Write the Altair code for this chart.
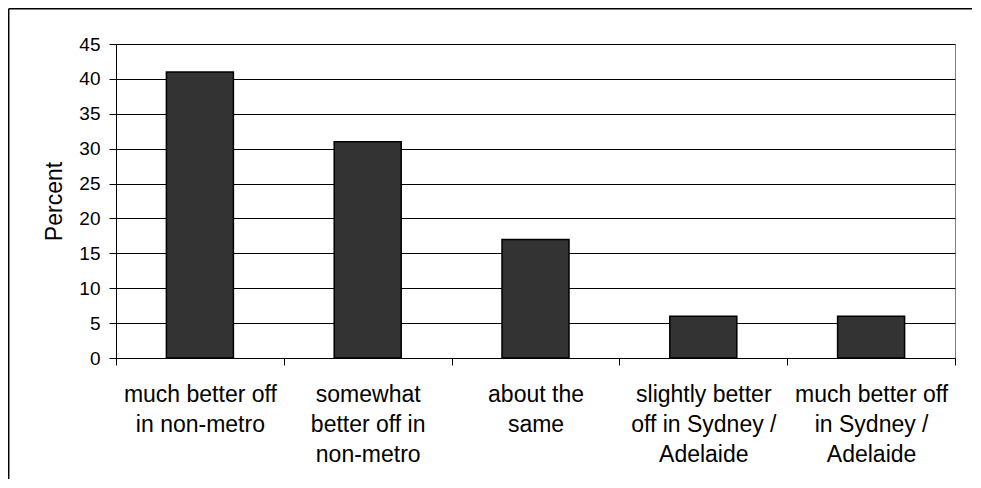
import json
import altair as alt
import pandas as pd

categories = [
    "much better off in non-metro",
    "somewhat better off in non-metro",
    "about the same",
    "slightly better off in Sydney / Adelaide",
    "much better off in Sydney / Adelaide",
]
percent = [41, 31, 17, 6, 6]
label_lines = [
    ["much better off", "in non-metro"],
    ["somewhat", "better off in", "non-metro"],
    ["about the", "same"],
    ["slightly better", "off in Sydney /", "Adelaide"],
    ["much better off", "in Sydney /", "Adelaide"],
]
y_ticks = [0, 5, 10, 15, 20, 25, 30, 35, 40, 45]

df = pd.DataFrame({"category": categories, "percent": percent})

# build a label expression that wraps each category into its lines
expr = "datum.label"
for cat, lines in reversed(list(zip(categories, label_lines))):
    expr = f"datum.label == {json.dumps(cat)} ? {json.dumps(lines)} : ({expr})"

FONT = "Liberation Sans"

bars = alt.Chart(df).mark_bar(
    size=67, fill="#333333", stroke="black", strokeWidth=1.5
).encode(
    x=alt.X(
        "category:N",
        sort=categories,
        scale=alt.Scale(paddingInner=0, paddingOuter=0),
        axis=alt.Axis(
            title=None,
            tickBand="extent",
            tickSize=7,
            tickColor="black",
            domainColor="black",
            labelAngle=0,
            labelLimit=0,
            labelPadding=18,
            labelFontSize=23,
            labelLineHeight=30,
            labelBaseline="top",
            labelExpr=expr,
            grid=False,
        ),
    ),
    y=alt.Y(
        "percent:Q",
        scale=alt.Scale(domain=[0, 45], nice=False),
        axis=alt.Axis(
            values=y_ticks,
            title="Percent",
            titleFontSize=23,
            titleFontWeight="normal",
            titleX=-55,
            titleY=157,
            titleAlign="center",
            titleBaseline="alphabetic",
            tickSize=7,
            tickColor="black",
            domainColor="black",
            labelFontSize=19,
            labelPadding=9,
            grid=True,
            gridColor="black",
            gridWidth=1,
        ),
    ),
)

border_df = pd.DataFrame({"k": [0]})
top_border = alt.Chart(border_df).mark_rule(color="black", strokeWidth=1.5).encode(
    x=alt.value(-107.3), x2=alt.value(1000), y=alt.value(-35.3)
)
left_border = alt.Chart(border_df).mark_rule(color="black", strokeWidth=1.5).encode(
    x=alt.value(-107.3), y=alt.value(-35.3), y2=alt.value(600)
)

chart = alt.layer(bars, top_border, left_border).properties(
    width=839,
    height=314,
    autosize=alt.AutoSizeParams(type="none"),
    padding={"left": 108, "top": 36, "right": 17, "bottom": 121},
).configure(
    font=FONT,
).configure_axis(
    labelFont=FONT,
    titleFont=FONT,
    labelColor="black",
    titleColor="black",
).configure_view(
    stroke="#808080", strokeWidth=1
)

chart.save("out.html", embed_options={"renderer": "svg", "actions": False})
